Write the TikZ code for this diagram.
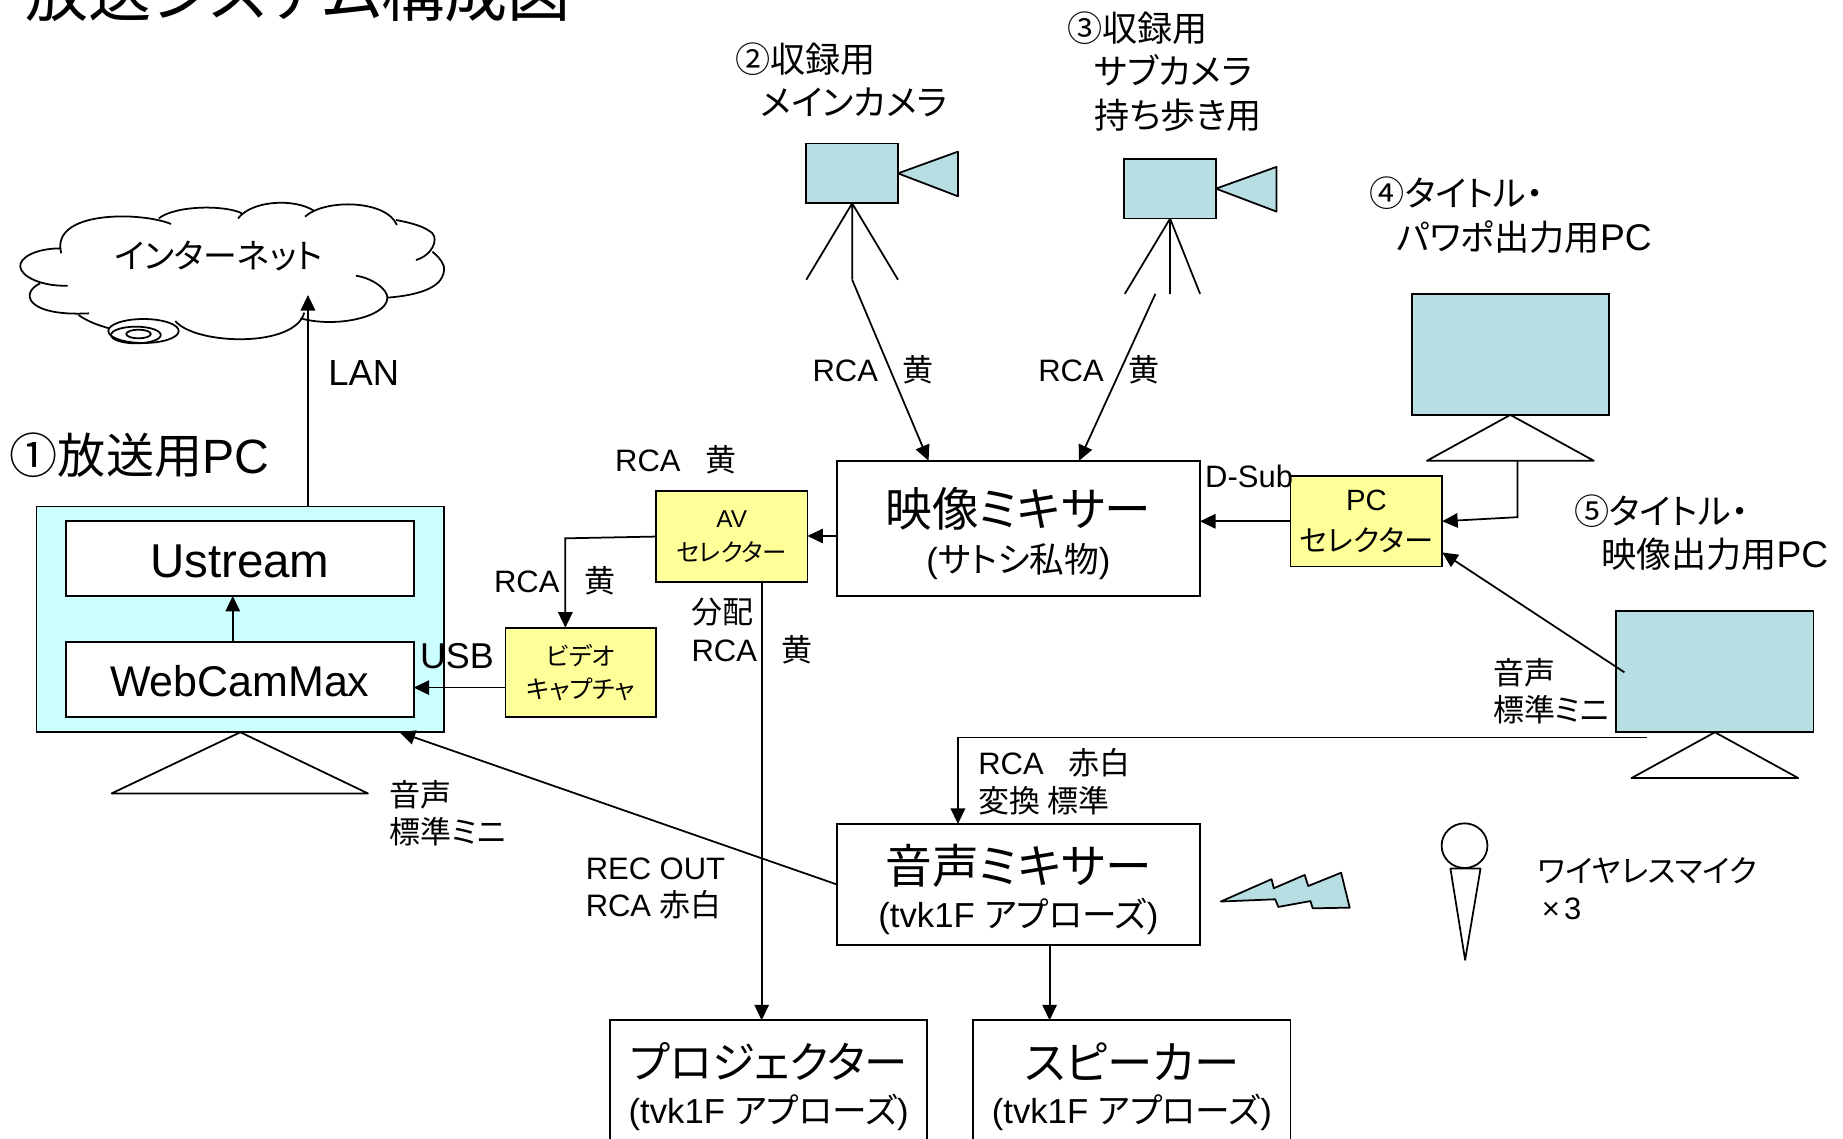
\documentclass[tikz,border=0pt]{standalone}
\usepackage{fontspec}
\setmainfont{Liberation Sans}
\newfontfamily\cjk[RawFeature=+palt]{Noto Sans CJK JP}
\usetikzlibrary{arrows.meta,positioning,calc}
\definecolor{pcblue}{HTML}{CCFFFF}
\definecolor{selyellow}{HTML}{FFFF99}
\definecolor{camteal}{HTML}{B7DEE3}
\newcommand{\fsz}[1]{\fontsize{#1}{#1}\selectfont}
\newcommand{\mixbox}[5]{\rule{0pt}{#2}{\fsz{#1}\cjk #4}\\[#3]{\fsz{16.8}#5}}
\newcommand{\apl}{(tvk1F {\cjk アプローズ})}

\begin{document}
\begin{tikzpicture}[x=0.02cm,y=-0.02cm,
  box/.style={draw,line width=0.85pt,inner sep=0pt,outer sep=0pt,align=center},
  lbl/.style={anchor=west,inner sep=0pt,align=left,font=\fontsize{15}{18.2}\selectfont},
  head/.style={anchor=west,inner sep=0pt,align=left,font=\fontsize{17}{21}\selectfont},
  sel/.style={box,fill=selyellow,minimum width=2.58cm,minimum height=1.54cm},
  mixer/.style={box,minimum width=6.18cm},
  dest/.style={box,minimum width=5.4cm,minimum height=2.24cm},
  screen/.style={box,fill=camteal,minimum width=3.36cm,minimum height=2.06cm},
  cam/.style={box,fill=camteal,minimum width=1.56cm,minimum height=1.02cm},
  prog/.style={box,fill=white,minimum width=5.92cm,minimum height=1.28cm},
  conn/.style={line width=0.85pt,-{Triangle[length=7.5pt,width=7pt]}},
  plain/.style={line width=0.85pt,line join=round},
  cloudline/.style={line width=0.85pt}
]
\path[clip,use as bounding box] (0,0) rectangle (1568,969);

% ---- Title --------------------------------------------------
\node[anchor=west,inner sep=0pt,font=\fsz{30.6}\cjk] (title) at (21,-6) {放送システム構成図};

% ---- Cloud --------------------------------------------------
\begin{scope}[xscale=0.3256,yscale=0.2836]
  \draw[cloudline] (447,672) .. controls (370,635) and (130,630) .. (160,760);
  \draw[cloudline] (160,745) .. controls (90,745) and (50,775) .. (53,800)
                   .. controls (55,830) and (110,860) .. (177,857);
  \draw[cloudline] (105,850) .. controls (50,880) and (70,950) .. (233,940);
  \draw[cloudline] (205,945) .. controls (230,965) and (255,975) .. (285,985);
  \draw[cloudline] (375,993) ellipse (92 and 36);
  \draw[cloudline] (355,1005) ellipse (65 and 25);
  \draw[cloudline] (362,1002) ellipse (32 and 13);
  \draw[cloudline] (458,963) .. controls (510,1035) and (770,1045) .. (795,938);
  \draw[cloudline] (930,827) .. controls (975,835) and (1015,870) .. (1012,895)
                   .. controls (1010,950) and (880,985) .. (785,955);
  \draw[cloudline] (1012,893) .. controls (1100,885) and (1165,860) .. (1160,800)
                   .. controls (1155,780) and (1140,765) .. (1130,755);
  \draw[cloudline] (1087,780) .. controls (1130,765) and (1145,720) .. (1130,700)
                   .. controls (1110,680) and (1080,670) .. (1035,660);
  \draw[cloudline] (797,650) .. controls (850,595) and (1010,600) .. (1037,675);
  \draw[cloudline] (622,655) .. controls (660,600) and (770,595) .. (820,632);
  \draw[cloudline] (415,655) .. controls (460,615) and (590,615) .. (632,640);
\end{scope}
\node[inner sep=0pt,font=\fsz{16.4}\cjk] (net) at (186,218) {インターネット};

% ---- Broadcast PC -------------------------------------------
\node[box,fill=pcblue,minimum width=6.94cm,minimum height=3.84cm] (pc) at (204.5,527) {};
\node[prog,font=\fsz{23}] (ust) at (204,475) {\rule{0pt}{19pt}Ustream};
\node[prog,font=\fsz{20.8}] (web) at (204,578) {\rule{0pt}{17pt}WebCamMax};
\draw[plain] (pc.south) -- (95,675) -- (313,675) -- cycle;
\node[lbl,font=\fsz{23.3}] (pclbl) at (8,387) {{\cjk ①放送用}PC};

% ---- Selectors ----------------------------------------------
\node[sel,font=\fsz{11.8}] (av) at (622.5,456.5) {AV\\[5pt]{\cjk セレクター}};
\node[sel,minimum width=2.56cm,minimum height=1.52cm,font=\fsz{12}\cjk] (cap) at (494,572) {ビデオ\\[4pt]キャプチャ};
\node[sel,font=\fsz{14.2}] (pcsel) at (1162.5,443.5) {PC\\[6pt]{\cjk セレクター}};

% ---- Mixers and outputs -------------------------------------
\node[mixer,minimum height=2.3cm] (vmix) at (866.5,449.5) {\mixbox{22.6}{24pt}{5pt}{映像ミキサー}{({\cjk サトシ私物})}};
\node[mixer,minimum height=2.06cm] (amix) at (866.5,752.5) {\mixbox{22.6}{24pt}{4pt}{音声ミキサー}{\apl}};
\node[dest] (proj) at (654,924) {\mixbox{21}{18pt}{5.5pt}{プロジェクター}{\apl}};
\node[dest] (spk) at (963,924) {\mixbox{22}{18pt}{5.5pt}{スピーカー}{\apl}};

% ---- Camera 2 -----------------------------------------------
\node[cam] (cama) at (725,147.5) {};
\draw[plain,fill=camteal] (cama.east) -- (815,129) -- (815,167) -- cycle;
\coordinate (legam) at (725,238);
\draw[plain] (cama.south) -- (686,238) (cama.south) -- (legam) (cama.south) -- (764,238);
\node[head] (camalbl) at (625,68) {{\cjk ②収録用}\\\hspace{12.5pt}{\cjk メインカメラ}};

% ---- Camera 3 -----------------------------------------------
\node[cam] (camb) at (995.5,160.5) {};
\draw[plain,fill=camteal] (camb.east) -- (1086,142) -- (1086,180) -- cycle;
\coordinate (legbm) at (983,250);
\draw[plain] (camb.south) -- (957,250) (camb.south) -- (995.5,250) (camb.south) -- (1021,250);
\node[head] (camblbl) at (908,61) {{\cjk ③収録用}\\\hspace{13pt}{\cjk サブカメラ}\\\hspace{13pt}{\cjk 持ち歩き用}};

% ---- Monitors -----------------------------------------------
\node[screen] (mona) at (1285,301.5) {};
\draw[plain] (mona.south) -- (1214,392) -- (1356,392) -- cycle;
\coordinate (monaout) at (1291,392);
\node[head] (monalbl) at (1165,183) {{\cjk ④タイトル・}\\\hspace{13pt}{\cjk パワポ出力用}{\fsz{18}PC}};

\node[screen] (monb) at (1459,571.5) {};
\draw[plain] (monb.south) -- (1388,662) -- (1530,662) -- cycle;
\coordinate (monbout) at (1382,572);
\coordinate (monbau) at (1401,627.5);
\node[head] (monblbl) at (1339,453) {{\cjk ⑤タイトル・}\\\hspace{13pt}{\cjk 映像出力用}{\fsz{18}PC}};

% ---- Wireless mic -------------------------------------------
\draw[plain] (1246,719.5) ellipse (19.5 and 19);
\draw[plain] (1234,739) -- (1259.6,739) -- (1246.5,816.7) -- cycle;
\draw[plain,fill=camteal] (1038.6,767) -- (1081.8,748) -- (1083.7,755.7) -- (1110,744.4)
  -- (1113,753.8) -- (1141,742.5) -- (1148.3,772.2) -- (1116.8,772.8) -- (1114.9,766.6)
  -- (1087.6,771.6) -- (1084.9,765.1) -- cycle;
\node[lbl] (miclbl) at (1308,756) {{\cjk ワイヤレスマイク}\\\hspace{2pt}×\hspace{2pt}3};

% ---- Connectors ---------------------------------------------
\coordinate (lanend) at (262,251);
\draw[conn] (262,0 |- pc.north) -- (lanend);
\draw[conn] (198,0 |- web.north) -- (198,0 |- ust.south);
\draw[conn] (cap.west |- 0,585) -- (web.east |- 0,585);
\draw[conn] (av.west) -- (481,458) -- (481,0 |- cap.north);
\draw[conn] (vmix.west |- 0,456) -- (av.east |- 0,456);
\draw[conn] (648,0 |- av.south) -- (648,0 |- proj.north);
\draw[conn] (pcsel.west) -- (vmix.east |- pcsel.west);
\draw[conn] (legam) -- (790,0 |- vmix.north);
\draw[conn] (legbm) -- (918,0 |- vmix.north);
\draw[conn] (monaout) -- (1291,440) -- (pcsel.east);
\draw[conn] (monbout) -- (pcsel.east |- 0,470);
\draw[conn] (monbau) -- (815,627.5) -- (815,0 |- amix.north);
\draw[conn] (amix.west) -- (340,623);
\draw[conn] (893,0 |- amix.south) -- (893,0 |- spk.north);

% ---- Cable labels -------------------------------------------
\node[lbl,font=\fsz{17.6}] (lanlbl) at (279,317) {LAN};
\node[lbl,font=\fsz{17.4}] (usblbl) at (357,558) {USB};
\node[lbl] (dsublbl) at (1025,405) {D-Sub};
\node[lbl] (rcaa) at (691,315) {RCA\hspace{0.8em}{\cjk 黄}};
\node[lbl] (rcab) at (883,315) {RCA\hspace{0.8em}{\cjk 黄}};
\node[lbl] (rcac) at (523,391) {RCA\hspace{0.8em}{\cjk 黄}};
\node[lbl] (rcad) at (420,494) {RCA\hspace{0.8em}{\cjk 黄}};
\node[lbl] (bunpai) at (588,537) {{\cjk 分配}\\RCA\hspace{0.8em}{\cjk 黄}};
\node[lbl] (rcaw) at (832,665) {RCA\hspace{0.8em}{\cjk 赤白}\\{\cjk 変換 標準}};
\node[lbl] (recout) at (498,756) {REC OUT\\RCA {\cjk 赤白}};
\node[lbl] (onsa) at (331,692) {{\cjk 音声}\\{\cjk 標準ミニ}};
\node[lbl] (onsb) at (1270,588) {{\cjk 音声}\\{\cjk 標準ミニ}};

\end{tikzpicture}
\end{document}
